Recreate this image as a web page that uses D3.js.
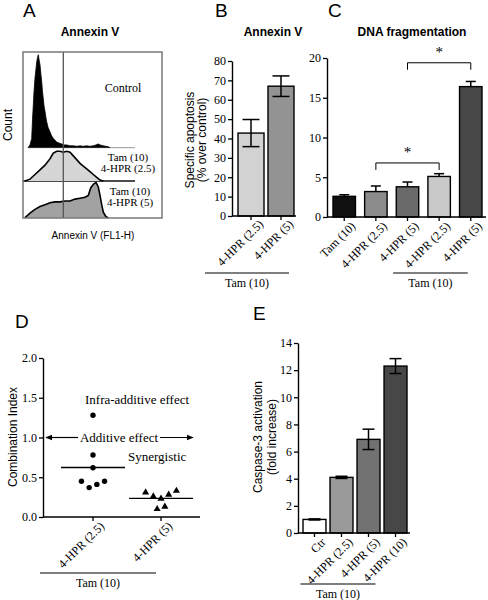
<!DOCTYPE html>
<html><head><meta charset="utf-8">
<script src="https://cdn.jsdelivr.net/npm/d3@7"></script>
<style>body{margin:0;background:#fff} svg{display:block}</style>
</head><body>
<svg id="c" width="488" height="600"></svg>
<script>
// ---------------- DATA ----------------
// Panel A: Annexin V flow-cytometry histograms [channel, relative count]
const histNames = ["Control", "Tam (10)|4-HPR (2.5)", "Tam (10)|4-HPR (5)"];
const histControl = [[5,0],[7,3],[8.7,10],[9.5,30],[10.3,46],[11,60],[12,75],[13,85],[13.7,92],[14.5,97],[15.3,100],[16,95],[17,89],[18,78],[18.7,71],[19.5,60],[20.3,53],[21,45],[22,39],[23,32],[23.7,28],[25,22],[27,17],[28.5,13],[30.3,10],[32,8],[33.7,6],[36,5],[38.7,4],[41,3],[43.7,3],[47,2],[50.3,2],[54,1.5],[57,2],[60,1.5],[63.7,2],[67,1.5],[70.3,2],[73,3],[75.3,4],[77,3],[80.3,2],[83,1.5],[85.3,1],[87,0]];
const histTam25 = [[2,0],[7,2],[12,7],[17,12],[22,17],[27,24],[30.3,30],[33.7,32],[37,32],[40.3,31],[43.7,32],[47,31],[50.3,27],[53.7,23],[57,19],[60.3,16],[63.7,13],[67,10],[70.3,7],[73.7,4],[77,1],[80.3,0]];
const histTam5 = [[2,0],[7,5],[12,9],[17,12],[22,14],[27,16],[32,17],[37,17],[42,18],[47,18],[52,20],[57,21],[62,22],[65.3,24],[67.7,32],[70.3,36],[73,38],[75.3,33],[77,24],[78.7,14],[80.3,6],[83,1],[85.3,0]];

// Panel B: Annexin V specific apoptosis
const catB = ["4-HPR (2.5)", "4-HPR (5)"];
const valB = [42.8, 67];
const errB = [7, 5.3];
const ticksB = [0, 10, 20, 30, 40, 50, 60, 70, 80];

// Panel C: DNA fragmentation
const catC = ["Tam (10)", "4-HPR (2.5)", "4-HPR (5)", "4-HPR (2.5)", "4-HPR (5)"];
const valC = [2.6, 3.2, 3.8, 5.1, 16.4];
const errC = [0.2, 0.7, 0.6, 0.35, 0.65];
const ticksC = [0, 5, 10, 15, 20];
const sigC = [[1, 3, 6.8], [2, 4, 19.4]]; // [from bar, to bar, bracket level]

// Panel D: combination index
const catD = ["4-HPR (2.5)", "4-HPR (5)"];
const ciD = [[1.28, 0.78, 0.62, 0.45, 0.37, 0.41, 0.45],
             [0.31, 0.26, 0.23, 0.28, 0.33, 0.10, 0.13]];
const ticksD = [0, 0.5, 1.0, 1.5, 2.0];

// Panel E: caspase-3 activation
const catE = ["Ctr", "4-HPR (2.5)", "4-HPR (5)", "4-HPR (10)"];
const valE = [1.0, 4.1, 6.9, 12.3];
const errE = [0.04, 0.08, 0.75, 0.55];
const ticksE = [0, 2, 4, 6, 8, 10, 12, 14];

// ---------------- DRAW ----------------
const svg = d3.select("#c");
const SERIF = "'Liberation Serif','Times New Roman',serif";
const SANS = "'Liberation Sans',Arial,sans-serif";

function text(x, y, s, o = {}) {
  const t = svg.append("text").attr("x", x).attr("y", y).text(s)
    .attr("font-family", o.family || SANS).attr("font-size", o.size || 12)
    .attr("text-anchor", o.anchor || "start").attr("fill", o.fill || "#000");
  if (o.weight) t.attr("font-weight", o.weight);
  if (o.rotate) t.attr("transform", `rotate(${o.rotate},${x},${y})`);
  return t;
}

// panel letters & titles
text(23, 17, "A", {size: 19});
text(215, 17, "B", {size: 19});
text(328, 17, "C", {size: 19});
text(15, 328, "D", {size: 19});
text(253, 320, "E", {size: 19});
text(90, 36, "Annexin V", {weight: "bold", anchor: "middle"});
text(273, 36, "Annexin V", {weight: "bold", anchor: "middle"});
text(412, 36, "DNA fragmentation", {weight: "bold", anchor: "middle"});

// ----- Panel A -----
const hx = d3.scaleLinear().domain([0, 139]).range([23, 162]);
const bases = [147.7, 181, 217.7];
const hists = [histControl, histTam25, histTam5];
const fills = ["#000", "#d6d6d6", "#a2a2a2"];
svg.append("rect").attr("x", 23).attr("y", 52).attr("width", 139).attr("height", 166)
  .attr("fill", "#fff");
svg.append("line").attr("x1", hx(5)).attr("x2", hx(112)).attr("y1", bases[0]).attr("y2", bases[0])
  .attr("stroke", "#999").attr("stroke-width", 1);
svg.append("line").attr("x1", hx(0)).attr("x2", hx(112)).attr("y1", bases[1]).attr("y2", bases[1])
  .attr("stroke", "#111").attr("stroke-width", 1.4);
hists.forEach((h, i) => {
  const hy = d3.scaleLinear().domain([0, 100]).range([bases[i], bases[i] - 93]);
  const area = d3.area().x(d => hx(d[0])).y0(bases[i]).y1(d => hy(d[1]));
  svg.append("path").datum(h).attr("d", area).attr("fill", fills[i]);
  const line = d3.line().x(d => hx(d[0])).y(d => hy(d[1]));
  svg.append("path").datum(h).attr("d", line).attr("fill", "none")
    .attr("stroke", "#000").attr("stroke-width", i === 0 ? 0.8 : 1.6);
});
svg.append("line").attr("x1", 63.3).attr("x2", 63.3).attr("y1", 52).attr("y2", 218)
  .attr("stroke", "#555").attr("stroke-width", 1.3);
svg.append("rect").attr("x", 23).attr("y", 52).attr("width", 139).attr("height", 166)
  .attr("fill", "none").attr("stroke", "#6e6e6e").attr("stroke-width", 1.4);
const histLabelPos = [[123, [92]], [128, [160.5, 171.5]], [130, [194.5, 205.5]]];
histNames.forEach((n, i) => {
  const [cx, ys] = histLabelPos[i];
  n.split("|").forEach((s, j) => text(cx, ys[j], s, {family: SERIF, anchor: "middle", size: i === 0 ? 12 : 11}));
});
text(12, 125, "Count", {anchor: "middle", rotate: -90});
text(93, 239, "Annexin V (FL1-H)", {anchor: "middle", size: 10});

// ----- generic bar panel -----
function yAxis(y, ticks, x0, fmt) {
  const g = svg.append("g").attr("transform", `translate(${x0},0)`)
    .call(d3.axisLeft(y).tickValues(ticks).tickSize(4).tickSizeOuter(0).tickPadding(2)
      .tickFormat(fmt || d3.format("d")));
  g.select(".domain").attr("stroke", "#000").attr("stroke-width", 1.4);
  g.selectAll(".tick line").attr("stroke", "#000").attr("stroke-width", 1.3);
  g.selectAll(".tick text").attr("font-family", SERIF).attr("font-size", 12).attr("fill", "#000");
  return g;
}
function xAxis(x, cats, x0, x1, y0, lab) {
  svg.append("line").attr("x1", x0).attr("x2", x1).attr("y1", y0).attr("y2", y0)
    .attr("stroke", "#000").attr("stroke-width", 1.4);
  cats.forEach((c, i) => {
    const cx = x(i) + x.bandwidth() / 2;
    svg.append("line").attr("x1", cx).attr("x2", cx).attr("y1", y0).attr("y2", y0 + 4)
      .attr("stroke", "#000").attr("stroke-width", 1.3);
    svg.append("text").attr("transform", `translate(${cx + lab[0]},${y0 + lab[1]}) rotate(-45)`)
      .attr("text-anchor", "end").attr("dy", "0.35em").attr("font-family", SERIF)
      .attr("font-size", 12).text(c);
  });
}
function groupLine(x1, x2, y, label) {
  svg.append("line").attr("x1", x1).attr("x2", x2).attr("y1", y).attr("y2", y)
    .attr("stroke", "#000").attr("stroke-width", 1.2);
  text((x1 + x2) / 2, y + 14, label, {family: SERIF, anchor: "middle"});
}
function bars(x, y, vals, colors, y0) {
  vals.forEach((v, i) => {
    svg.append("rect").attr("x", x(i)).attr("width", x.bandwidth())
      .attr("y", y(v)).attr("height", y0 - y(v))
      .attr("fill", colors[i]).attr("stroke", "#000").attr("stroke-width", 1.4);
  });
}
function errors(x, y, vals, errs, both, capW) {
  vals.forEach((v, i) => {
    const cx = x(i) + x.bandwidth() / 2;
    const lo = both ? v - errs[i] : v, hi = v + errs[i];
    svg.append("line").attr("x1", cx).attr("x2", cx).attr("y1", y(lo)).attr("y2", y(hi))
      .attr("stroke", "#000").attr("stroke-width", 1.5);
    [hi].concat(both ? [lo] : []).forEach(e =>
      svg.append("line").attr("x1", cx - capW / 2).attr("x2", cx + capW / 2)
        .attr("y1", y(e)).attr("y2", y(e)).attr("stroke", "#000").attr("stroke-width", 1.5));
  });
}

// ----- Panel B -----
{
  const y = d3.scaleLinear().domain([0, 80]).range([216, 61]);
  const x = d3.scaleBand().domain(d3.range(catB.length)).range([238, 294]).paddingInner(0.133);
  bars(x, y, valB, ["#d2d2d2", "#939393"], 216);
  errors(x, y, valB, errB, true, 17);
  yAxis(y, ticksB, 232);
  xAxis(x, catB, 232, 296, 216, [10, 6]);
  groupLine(205, 289, 273, "Tam (10)");
  text(194, 140, "Specific apoptosis", {anchor: "middle", rotate: -90});
  text(206, 140, "(% over control)", {anchor: "middle", rotate: -90});
}

// ----- Panel C -----
{
  const y = d3.scaleLinear().domain([0, 20]).range([217, 58]);
  const x = d3.scaleBand().domain(d3.range(catC.length)).range([333, 482]).paddingInner(0.29);
  errors(x, y, valC, errC, false, 10);
  bars(x, y, valC, ["#111111", "#8c8c8c", "#6a6a6a", "#c9c9c9", "#474747"], 217);
  yAxis(y, ticksC, 327);
  xAxis(x, catC, 327, 486, 217, [9, 7]);
  const cx = i => x(i) + x.bandwidth() / 2;
  groupLine(cx(3) - 46, cx(4) - 3, 273, "Tam (10)");
  sigC.forEach(([a, b, lvl]) => {
    const yy = y(lvl);
    svg.append("path").attr("d", `M${cx(a)},${yy + 7}V${yy}H${cx(b)}V${yy + 7}`)
      .attr("fill", "none").attr("stroke", "#000").attr("stroke-width", 1);
    text((cx(a) + cx(b)) / 2, yy - 6, "*", {family: SERIF, size: 15, anchor: "middle"});
  });
}

// ----- Panel D -----
{
  const y = d3.scaleLinear().domain([0, 2]).range([517, 358]);
  const x = d3.scaleBand().domain(d3.range(catD.length)).range([59, 195]).paddingInner(0);
  const cx = i => x(i) + x.bandwidth() / 2;
  yAxis(y, ticksD, 43, d3.format(".1f"));
  xAxis(x, catD, 43, 200, 517, [9, 7]);
  groupLine(cx(0) - 53, cx(1) - 5, 573, "Tam (10)");
  text(17, 437, "Combination Index", {anchor: "middle", rotate: -90});
  const defs = svg.append("defs");
  defs.append("marker").attr("id", "ah").attr("viewBox", "0 0 10 10").attr("refX", 9).attr("refY", 5)
    .attr("markerWidth", 7).attr("markerHeight", 7).attr("orient", "auto-start-reverse")
    .attr("markerUnits", "userSpaceOnUse")
    .append("path").attr("d", "M0,1L10,5L0,9Z").attr("fill", "#000");
  const ya = y(1.0);
  svg.append("line").attr("x1", 78).attr("x2", 46).attr("y1", ya).attr("y2", ya)
    .attr("stroke", "#000").attr("stroke-width", 1.2).attr("marker-end", "url(#ah)");
  svg.append("line").attr("x1", 160).attr("x2", 193).attr("y1", ya).attr("y2", ya)
    .attr("stroke", "#000").attr("stroke-width", 1.2).attr("marker-end", "url(#ah)");
  text(119, ya + 4, "Additive effect", {family: SERIF, size: 13, anchor: "middle"});
  text(85, 404, "Infra-additive effect", {family: SERIF, size: 13});
  text(128, 461, "Synergistic", {family: SERIF, size: 13});
  const spacing = 7.7;
  ciD.forEach((vals, gi) => {
    const order = d3.range(vals.length).sort((a, b) => vals[a] - vals[b]);
    const rows = [];
    order.forEach(k => {
      const r = rows.find(r => Math.abs(vals[k] - vals[r[0]]) <= 0.1);
      if (r) r.push(k); else rows.push([k]);
    });
    const offs = new Array(vals.length);
    rows.forEach(r => { r.sort((a, b) => a - b); r.forEach((k, j) => offs[k] = (j - (r.length - 1) / 2) * spacing); });
    vals.forEach((v, k) => {
      const px = cx(gi) + offs[k], py = y(v);
      if (gi === 0) svg.append("circle").attr("cx", px).attr("cy", py).attr("r", 2.7).attr("fill", "#000");
      else svg.append("path").attr("d", d3.symbol(d3.symbolTriangle, 22)())
        .attr("transform", `translate(${px},${py})`).attr("fill", "#000");
    });
    const m = d3.mean(vals);
    svg.append("line").attr("x1", cx(gi) - 32).attr("x2", cx(gi) + 32).attr("y1", y(m)).attr("y2", y(m))
      .attr("stroke", "#000").attr("stroke-width", 1.4);
  });
}

// ----- Panel E -----
{
  const y = d3.scaleLinear().domain([0, 14]).range([533, 343]);
  const x = d3.scaleBand().domain(d3.range(catE.length)).range([303, 407]).paddingInner(0.15);
  const cx = i => x(i) + x.bandwidth() / 2;
  bars(x, y, valE, ["#ffffff", "#9a9a9a", "#727272", "#474747"], 533);
  errors(x, y, valE, errE, true, 12);
  yAxis(y, ticksE, 298);
  xAxis(x, catE, 298, 410, 533, [9, 7]);
  groupLine(cx(1) - 41, cx(3) - 20, 584, "Tam (10)");
  text(262, 437, "Caspase-3 activation", {anchor: "middle", rotate: -90});
  text(276, 437, "(fold increase)", {anchor: "middle", rotate: -90});
}
</script>
</body></html>
